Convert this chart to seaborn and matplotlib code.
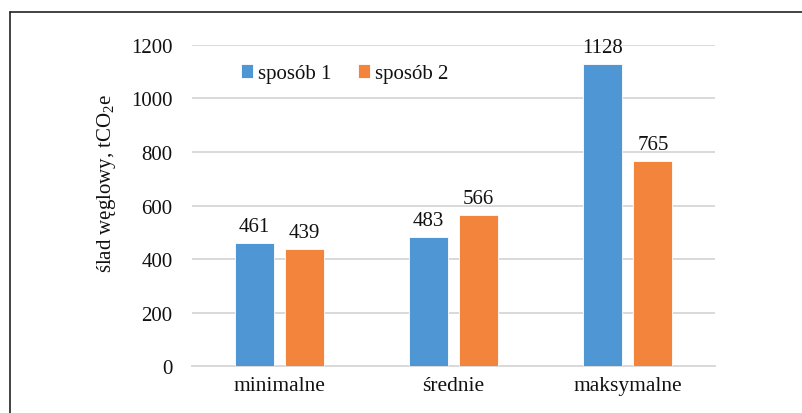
import matplotlib
matplotlib.use("Agg")
import matplotlib.pyplot as plt
import seaborn as sns
import pandas as pd
from matplotlib.lines import Line2D

# Carbon footprint values per scenario and method
categories = ["minimalne", "średnie", "maksymalne"]
methods = ["sposób 1", "sposób 2"]
values_method1 = [461, 483, 1128]
values_method2 = [439, 566, 765]
y_ticks = [0, 200, 400, 600, 800, 1000, 1200]

df = pd.DataFrame({
    "scenariusz": categories * 2,
    "sposób": [methods[0]] * 3 + [methods[1]] * 3,
    "ślad": values_method1 + values_method2,
})

sns.set_theme(style="white")
plt.rcParams["font.family"] = ["Liberation Serif", "DejaVu Serif"]
plt.rcParams["mathtext.fontset"] = "custom"
plt.rcParams["mathtext.rm"] = "Liberation Serif"
plt.rcParams["mathtext.it"] = "Liberation Serif:italic"

fig = plt.figure(figsize=(8.02, 4.14), dpi=100)
ax = fig.add_axes([0.2394, 0.1135, 0.6521, 0.7754])

palette = {"sposób 1": "#4E96D4", "sposób 2": "#F2843C"}
sns.barplot(data=df, x="scenariusz", y="ślad", hue="sposób", order=categories,
            hue_order=methods, palette=palette, width=0.574, gap=0.22,
            saturation=1, edgecolor="white", linewidth=0.6, ax=ax, zorder=3)

for cont in ax.containers:
    ax.bar_label(cont, fmt="%d", padding=5, fontsize=15, color="#111111")

ax.set_ylim(0, 1200)
ax.set_xlim(-0.5, 2.5)
ax.set_yticks(y_ticks)
ax.yaxis.grid(True, color="#D9D9D9", linewidth=1.4, zorder=0)
ax.set_axisbelow(True)
for s in ["top", "right", "left"]:
    ax.spines[s].set_visible(False)
ax.spines["bottom"].set_color("#D9D9D9")
ax.spines["bottom"].set_linewidth(1.4)
ax.tick_params(axis="y", length=0, pad=14, labelsize=15, labelcolor="#111111")
ax.tick_params(axis="x", length=0, pad=7, labelsize=15.5, labelcolor="#111111")
ax.set_xlabel("")
ax.set_ylabel("ślad węglowy, tCO$_\\mathrm{2}$e", fontsize=15, color="#111111")
ax.yaxis.set_label_coords(-0.142, 0.573)

leg = ax.legend(loc="center left", bbox_to_anchor=(0.057, 0.91), ncol=2, frameon=False,
                fontsize=15, handlelength=0.6, handleheight=0.6, handletextpad=0.25,
                columnspacing=1.25)
for t in leg.get_texts():
    t.set_color("#111111")

# outer frame (top and left edges)
fig.add_artist(Line2D([0.0125, 1.0], [1 - 13 / 414] * 2, transform=fig.transFigure,
                      color="#222222", linewidth=1.2))
fig.add_artist(Line2D([0.0125, 0.0125], [0.0, 1 - 13 / 414], transform=fig.transFigure,
                      color="#222222", linewidth=1.2))

fig.savefig("out.png", dpi=100, facecolor="white")
